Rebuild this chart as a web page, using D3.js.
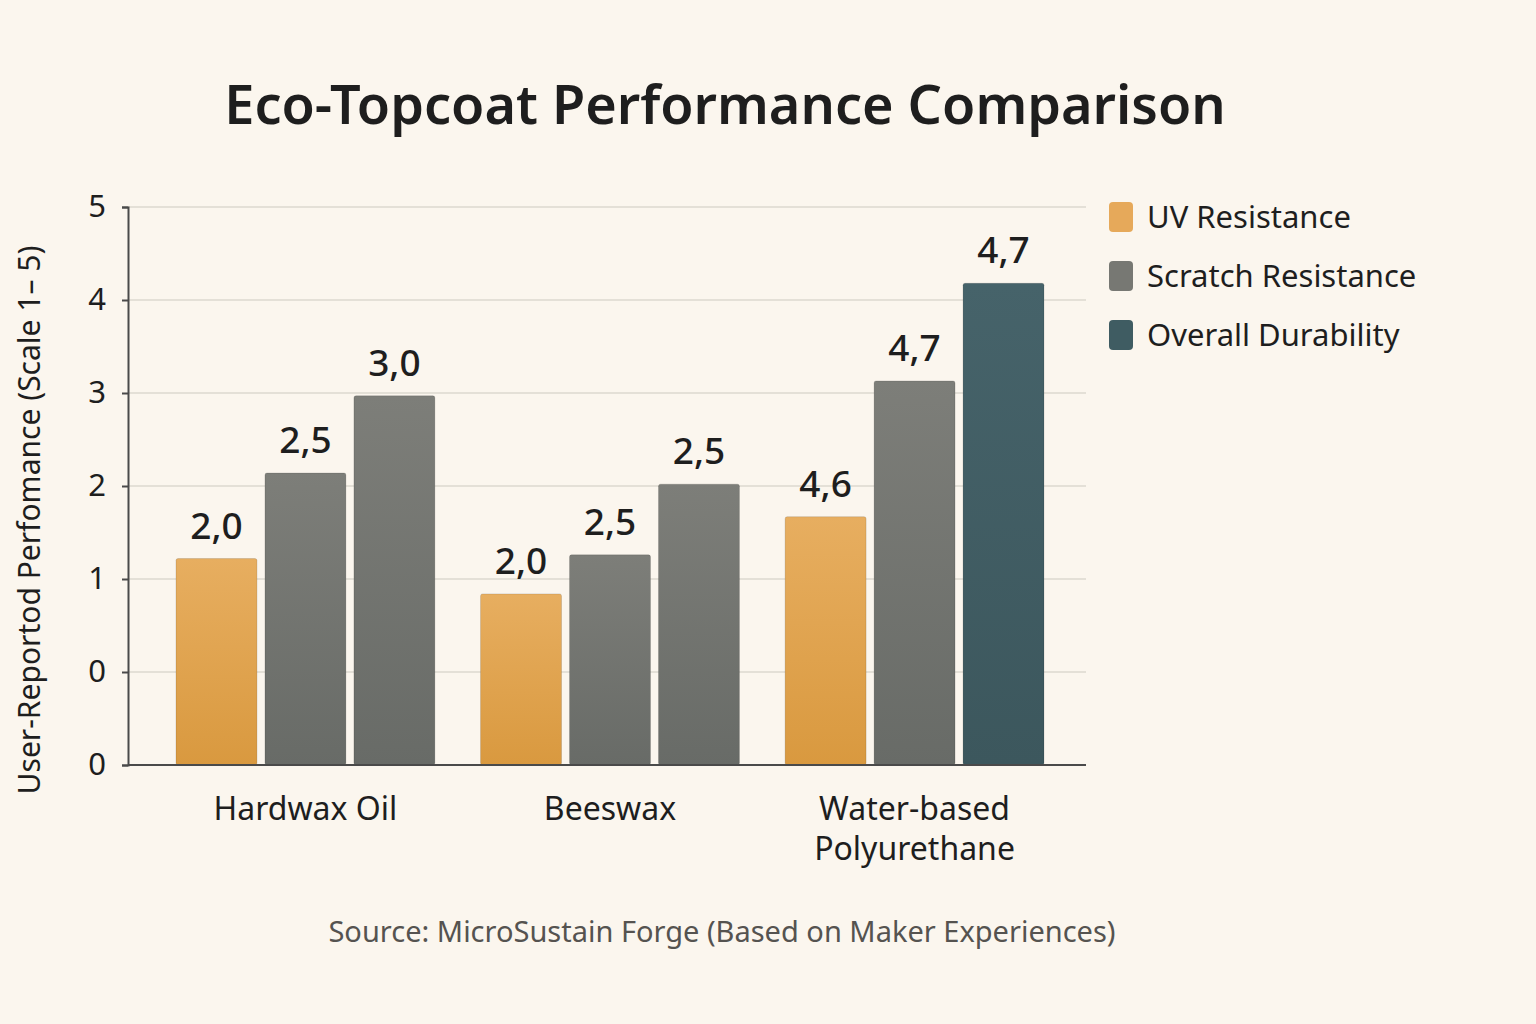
<!DOCTYPE html>
<html>
<head>
<meta charset="utf-8">
<script src="https://cdn.jsdelivr.net/npm/d3@7/dist/d3.min.js"></script>
<style>
  html, body { margin: 0; padding: 0; background: #fbf6ee; }
  svg { display: block; font-family: "Noto Sans", "Open Sans", sans-serif; }
</style>
</head>
<body>
<svg id="chart"></svg>
<script>
// data
const categories = ["Hardwax Oil", "Beeswax", "Water-based Polyurethane"];
const seriesNames = ["UV Resistance", "Scratch Resistance", "Overall Durability"];
// bar heights in axis-position units (tick rows 0..6)
const uvValues = [2.22, 1.84, 2.67];
const scratchValues = [3.14, 2.26, 4.13];
const durabilityValues = [3.97, 3.02, 5.18];
// printed value labels (as shown)
const uvLabels = ["2,0", "2,0", "4,6"];
const scratchLabels = ["2,5", "2,5", "4,7"];
const durabilityLabels = ["3,0", "2,5", "4,7"];
// tick labels as printed on the y axis, bottom to top
const yTickLabels = ["0", "0", "1", "2", "3", "4", "5"];

const W = 1536, H = 1024;
const svg = d3.select("#chart").attr("width", W).attr("height", H);

svg.append("rect").attr("width", W).attr("height", H).attr("fill", "#fbf6ee");

// gradients
const defs = svg.append("defs");
function grad(id, top, bottom) {
  const g = defs.append("linearGradient").attr("id", id)
    .attr("x1", 0).attr("y1", 0).attr("x2", 0).attr("y2", 1);
  g.append("stop").attr("offset", "0%").attr("stop-color", top);
  g.append("stop").attr("offset", "100%").attr("stop-color", bottom);
}
grad("gUV", "#e7ae60", "#d9993f");
grad("gGray", "#7d7e79", "#686b67");
grad("gTeal", "#46636a", "#3c575d");

const colorUV = "url(#gUV)", colorGray = "url(#gGray)", colorTeal = "url(#gTeal)";
// the picture draws durability grey for the first two groups
const barColors = [
  [colorUV, colorGray, colorGray],
  [colorUV, colorGray, colorGray],
  [colorUV, colorGray, colorTeal]
];
const legendColors = ["#e6a95a", "#777873", "#3f5c62"];

const plotLeft = 128, plotRight = 1086, plotTop = 207, plotBottom = 765;

const y = d3.scaleLinear().domain([0, 6]).range([plotBottom, plotTop]);

const x0 = d3.scaleBand().domain(categories).range([176, 1044]).paddingInner(0.15).paddingOuter(0);
const x1 = d3.scaleBand().domain(seriesNames).range([0, x0.bandwidth()]).paddingInner(0.09);

const rows = categories.map((c, i) => ({
  cat: c,
  vals: [uvValues[i], scratchValues[i], durabilityValues[i]],
  labels: [uvLabels[i], scratchLabels[i], durabilityLabels[i]],
  colors: barColors[i]
}));

// title
svg.append("text")
  .attr("x", 725).attr("y", 124)
  .attr("text-anchor", "middle")
  .attr("font-size", 54).attr("font-weight", 600)
  .attr("fill", "#1e1e1e")
  .text("Eco-Topcoat Performance Comparison");

// grid
svg.append("g")
  .selectAll("line")
  .data(d3.range(1, 7))
  .join("line")
    .attr("x1", plotLeft).attr("x2", plotRight)
    .attr("y1", d => y(d)).attr("y2", d => y(d))
    .attr("stroke", "#dcd8cf").attr("stroke-width", 1.5);

// y axis
const yAxis = d3.axisLeft(y)
  .tickValues(d3.range(0, 7))
  .tickFormat(d => yTickLabels[d])
  .tickSize(6).tickPadding(16);
const gy = svg.append("g").attr("transform", `translate(${plotLeft},0)`).call(yAxis);
gy.select(".domain").attr("stroke", "#4a4a4a").attr("stroke-width", 2);
gy.selectAll(".tick line").attr("stroke", "#4a4a4a").attr("stroke-width", 2);
gy.selectAll(".tick text").attr("font-size", 31).attr("fill", "#1e1e1e")
  .attr("font-family", "Noto Sans, sans-serif");

// bars
const groups = svg.append("g").selectAll("g")
  .data(rows)
  .join("g")
    .attr("transform", d => `translate(${x0(d.cat)},0)`);

groups.selectAll("rect")
  .data(d => d.vals.map((v, j) => ({ v, s: seriesNames[j], c: d.colors[j] })))
  .join("rect")
    .attr("x", d => x1(d.s))
    .attr("y", d => y(d.v))
    .attr("width", x1.bandwidth())
    .attr("height", d => y(0) - y(d.v))
    .attr("rx", 2)
    .attr("fill", d => d.c)
    .attr("stroke", "rgba(0,0,0,0.12)").attr("stroke-width", 1);

groups.selectAll("text.val")
  .data(d => d.vals.map((v, j) => ({ v, s: seriesNames[j], t: d.labels[j] })))
  .join("text")
    .attr("class", "val")
    .attr("x", d => x1(d.s) + x1.bandwidth() / 2)
    .attr("y", d => y(d.v) - 20)
    .attr("text-anchor", "middle")
    .attr("font-size", 37).attr("font-weight", 500)
    .attr("fill", "#1e1e1e")
    .text(d => d.t);

// x axis baseline
svg.append("line")
  .attr("x1", plotLeft).attr("x2", plotRight)
  .attr("y1", y(0)).attr("y2", y(0))
  .attr("stroke", "#4a4a4a").attr("stroke-width", 2);

// category labels
const xLabelLines = { "Water-based Polyurethane": ["Water-based", "Polyurethane"] };
svg.append("g").selectAll("text")
  .data(categories)
  .join("text")
    .attr("x", d => x0(d) + x0.bandwidth() / 2)
    .attr("y", 820)
    .attr("text-anchor", "middle")
    .attr("font-size", 32)
    .attr("fill", "#1e1e1e")
    .each(function (d) {
      const lines = xLabelLines[d] || [d];
      d3.select(this).selectAll("tspan")
        .data(lines)
        .join("tspan")
          .attr("x", x0(d) + x0.bandwidth() / 2)
          .attr("dy", (l, i) => i === 0 ? 0 : 40)
          .text(l => l);
    });

// y axis title
svg.append("text")
  .attr("transform", "translate(40,520) rotate(-90)")
  .attr("text-anchor", "middle")
  .attr("font-size", 30)
  .attr("fill", "#1e1e1e")
  .text("User-Reportod Perfomance (Scale 1– 5)");

// legend
const legend = svg.append("g").attr("transform", "translate(1109,217)");
const li = legend.selectAll("g")
  .data(seriesNames)
  .join("g")
    .attr("transform", (d, i) => `translate(0,${i * 59})`);
li.append("rect")
  .attr("x", 0).attr("y", -15)
  .attr("width", 24).attr("height", 30).attr("rx", 4)
  .attr("fill", (d, i) => legendColors[i]);
li.append("text")
  .attr("x", 38).attr("y", 11)
  .attr("font-size", 31)
  .attr("fill", "#1e1e1e")
  .text(d => d);

// source
svg.append("text")
  .attr("x", 722).attr("y", 942)
  .attr("text-anchor", "middle")
  .attr("font-size", 29)
  .attr("fill", "#555350")
  .text("Source: MicroSustain Forge (Based on Maker Experiences)");
</script>
</body>
</html>
